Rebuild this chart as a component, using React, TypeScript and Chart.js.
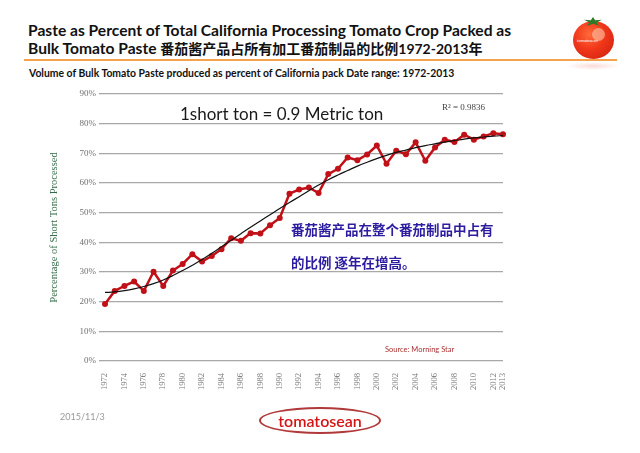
import React, { useEffect, useRef } from "react";
import { Chart, registerables } from "chart.js";
Chart.register(...registerables);

const years = [
  "1972", "1973", "1974", "1975", "1976", "1977", "1978", "1979", "1980", "1981",
  "1982", "1983", "1984", "1985", "1986", "1987", "1988", "1989", "1990", "1991",
  "1992", "1993", "1994", "1995", "1996", "1997", "1998", "1999", "2000", "2001",
  "2002", "2003", "2004", "2005", "2006", "2007", "2008", "2009", "2010", "2011",
  "2012", "2013",
];

const pasteShare = [
  19.2, 23.6, 25.3, 26.8, 23.6, 30.1, 25.3, 30.5, 32.7, 36.0,
  33.5, 35.4, 37.7, 41.4, 40.5, 43.1, 43.0, 45.8, 48.2, 56.4,
  57.8, 58.5, 56.6, 63.0, 64.8, 68.6, 67.7, 69.6, 72.6, 66.5,
  70.9, 69.7, 73.7, 67.5, 72.0, 74.6, 73.8, 76.3, 74.6, 75.7,
  76.8, 76.4,
];

const trendLine = [
  23.1, 23.3, 23.7, 24.3, 25.1, 26.1, 27.3, 28.8, 30.5, 32.3,
  34.2, 36.3, 38.5, 40.7, 42.9, 45.1, 47.2, 49.3, 51.4, 53.4,
  55.4, 57.4, 59.3, 61.1, 62.7, 64.2, 65.7, 67.0, 68.2, 69.3,
  70.3, 71.1, 71.9, 72.6, 73.2, 73.8, 74.3, 74.8, 75.2, 75.5,
  75.8, 76.0,
];

const shownYearLabels = [
  "1972", "1974", "1976", "1978", "1980", "1982", "1984", "1986", "1988", "1990",
  "1992", "1994", "1996", "1998", "2000", "2002", "2004", "2006", "2008", "2010",
  "2012", "2013",
];

const titleLine1 = "Paste as Percent of Total California Processing Tomato Crop Packed as";
const titleLine2a = "Bulk Tomato Paste ";
const titleLine2b = "番茄酱产品占所有加工番茄制品的比例1972-2013年";
const subtitle = "Volume of Bulk Tomato Paste produced as percent of California pack Date range: 1972-2013";
const yAxisTitle = "Percentage of Short Tons Processed";
const noteCN1 = "番茄酱产品在整个番茄制品中占有";
const noteCN2 = "的比例 逐年在增高。";

const sans = "Lato, 'Noto Sans CJK SC', 'Noto Sans', sans-serif";
const serif = "'Liberation Serif', 'DejaVu Serif', serif";

function abs(left: number, top: number, extra: React.CSSProperties = {}): React.CSSProperties {
  return { position: "absolute", left, top, whiteSpace: "nowrap", margin: 0, ...extra };
}

export default function App() {
  const ref = useRef<HTMLCanvasElement | null>(null);

  useEffect(() => {
    if (!ref.current) return;
    const chart = new Chart(ref.current, {
      type: "line",
      data: {
        labels: years,
        datasets: [
          {
            label: "Trend",
            data: trendLine,
            borderColor: "#111111",
            borderWidth: 1.2,
            pointRadius: 0,
            tension: 0.4,
            fill: false,
            clip: false as any,
          },
          {
            label: "Paste %",
            data: pasteShare,
            borderColor: "#c01018",
            backgroundColor: "#c01018",
            borderWidth: 2.5,
            pointRadius: 3,
            pointBorderWidth: 0,
            tension: 0,
            fill: false,
            clip: false as any,
          },
        ],
      },
      options: {
        responsive: false,
        animation: false,
        events: [],
        layout: { padding: { left: 35, right: 137, top: 94, bottom: 62 } },
        plugins: { legend: { display: false }, tooltip: { enabled: false } },
        scales: {
          x: {
            type: "category",
            offset: false,
            grid: { display: false },
            border: { display: false },
            ticks: {
              autoSkip: false,
              minRotation: 90,
              maxRotation: 90,
              padding: 4,
              color: "#777777",
              font: { family: serif, size: 8.5 },
              callback: function (this: any, value: any) {
                const lab = years[value as number];
                return shownYearLabels.includes(lab) ? lab : null;
              },
            },
            afterFit: (s: any) => {
              s.height = 30;
            },
          },
          y: {
            min: 0,
            max: 90,
            border: { display: false },
            grid: {
              color: "#a8a8a8",
              lineWidth: 1.3,
              drawTicks: true,
              tickLength: 6,
            },
            ticks: {
              stepSize: 10,
              padding: 3,
              color: "#707070",
              font: { family: serif, size: 9 },
              callback: (v: any) => v + "%",
            },
            title: {
              display: true,
              text: yAxisTitle,
              color: "#356b45",
              font: { family: serif, size: 10.5 },
              padding: { top: 13, bottom: 0 },
            },
            afterFit: (s: any) => {
              s.width = 70;
            },
          },
        },
      },
    });
    return () => chart.destroy();
  }, []);

  return (
    <div style={{ position: "fixed", left: 0, top: 0, width: 640, height: 453, background: "#ffffff", overflow: "hidden", fontFamily: sans }}>
      <div style={abs(28, 20, { fontSize: 15.6, fontWeight: 700, lineHeight: "20px", color: "#111" })}>{titleLine1}</div>
      <div style={abs(28, 38, { fontSize: 15.6, fontWeight: 700, lineHeight: "20px", color: "#111" })}>
        {titleLine2a}
        <span style={{ fontSize: 14 }}>{titleLine2b}</span>
      </div>
      <div style={abs(24, 59, { width: 593, height: 2, background: "#f4a24c" })} />
      <div style={abs(29, 67, { fontSize: 10.4, fontWeight: 700, lineHeight: "12px", color: "#111" })}>{subtitle}</div>

      {/* tomato icon */}
      <div style={abs(566, 62, { width: 54, height: 8, borderRadius: "50%", background: "radial-gradient(ellipse at center, rgba(240,150,140,0.35), rgba(255,255,255,0) 70%)" })} />
      <div style={abs(573, 21, { width: 41, height: 38, borderRadius: "50%", background: "radial-gradient(circle at 40% 35%, #ff6a3a 0%, #f0361a 45%, #c8200c 100%)" })} />
      <div style={abs(592, 28, { width: 13, height: 13, borderRadius: "50%", background: "rgba(255,200,170,0.6)" })} />
      <div style={abs(584, 17, { width: 18, height: 9, background: "#2f7a2a", clipPath: "polygon(50% 0%, 62% 35%, 100% 30%, 70% 60%, 85% 100%, 50% 75%, 15% 100%, 30% 60%, 0% 30%, 38% 35%)" })} />
      <div style={abs(577, 38, { fontSize: 4, color: "#ffffff", lineHeight: "5px" })}>tomatosean</div>

      <canvas ref={ref} width={640} height={453} style={{ position: "absolute", left: 0, top: 0, width: 640, height: 453 }} />

      <div style={abs(180, 103, { fontSize: 17, lineHeight: "22px", color: "#1a1a1a" })}>1short ton = 0.9 Metric ton</div>
      <div style={abs(442, 102, { fontSize: 9, lineHeight: "11px", color: "#444", fontFamily: serif })}>R² = 0.9836</div>
      <div style={abs(291, 220, { fontSize: 13.5, fontWeight: 700, lineHeight: "18px", color: "#2c1ca0", fontFamily: "'Noto Sans CJK SC', sans-serif" })}>{noteCN1}</div>
      <div style={abs(291, 253, { fontSize: 13.5, fontWeight: 700, lineHeight: "18px", color: "#2c1ca0", fontFamily: "'Noto Sans CJK SC', sans-serif" })}>{noteCN2}</div>
      <div style={abs(385, 345, { fontSize: 7.5, lineHeight: "10px", color: "#a83232" })}>Source: Morning Star</div>

      <div style={abs(60, 411, { fontSize: 9, lineHeight: "12px", color: "#999" })}>2015/11/3</div>
      <div style={abs(259, 407, { width: 118, height: 23, border: "2px solid #b03a3a", borderRadius: "50%", textAlign: "center", lineHeight: "23px", fontSize: 16, fontWeight: 600, color: "#d41414" })}>tomatosean</div>
    </div>
  );
}
